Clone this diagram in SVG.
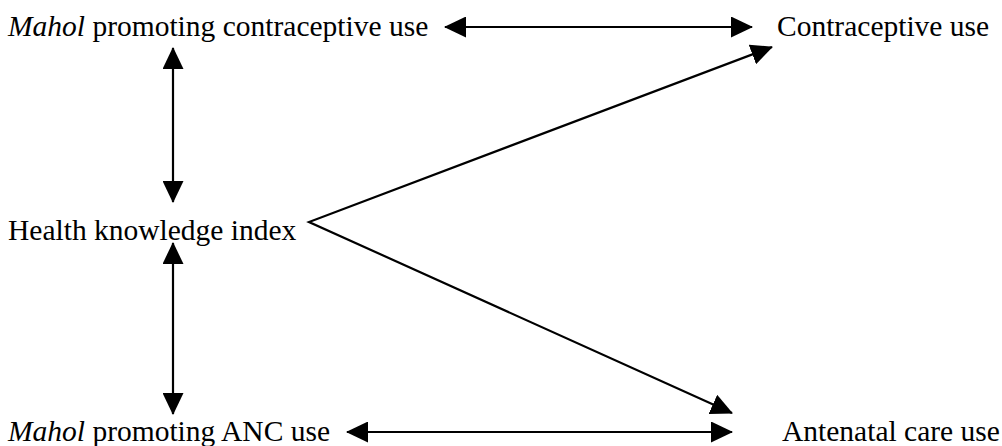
<svg xmlns="http://www.w3.org/2000/svg" width="1002" height="446" viewBox="0 0 1002 446">
<style>
text{font-family:"Liberation Serif","Times New Roman",serif;font-size:29.5px;fill:#000}
.i{font-style:italic}
.c{stroke:#000;stroke-width:2.2;fill:none}
</style>
<defs>
<marker id="ah" viewBox="0 0 22 21" refX="21" refY="10.5" markerWidth="22" markerHeight="21" markerUnits="userSpaceOnUse" orient="auto-start-reverse">
<path d="M0,0 L22,10.5 L0,21 Z" fill="#000"/>
</marker>
</defs>
<rect width="1002" height="446" fill="#fff"/>
<g id="n1"><text x="8" y="36"><tspan class="i">Mahol</tspan> promoting contraceptive use</text></g>
<g id="n2"><text x="777" y="36">Contraceptive use</text></g>
<g id="n3"><text x="8" y="240">Health knowledge index</text></g>
<g id="n4"><text x="8" y="441"><tspan class="i">Mahol</tspan> promoting ANC use</text></g>
<g id="n5"><text x="782" y="441">Antenatal care use</text></g>
<g id="connectors">
<line class="c" x1="445" y1="27" x2="752" y2="27" marker-start="url(#ah)" marker-end="url(#ah)"/>
<line class="c" x1="173" y1="48" x2="173" y2="202" marker-start="url(#ah)" marker-end="url(#ah)"/>
<line class="c" x1="173" y1="243" x2="173" y2="414" marker-start="url(#ah)" marker-end="url(#ah)"/>
<line class="c" x1="347" y1="432" x2="732" y2="432" marker-start="url(#ah)" marker-end="url(#ah)"/>
<polyline class="c" points="772,47 309,222 732,413" marker-start="url(#ah)" marker-end="url(#ah)"/>
</g>
</svg>
